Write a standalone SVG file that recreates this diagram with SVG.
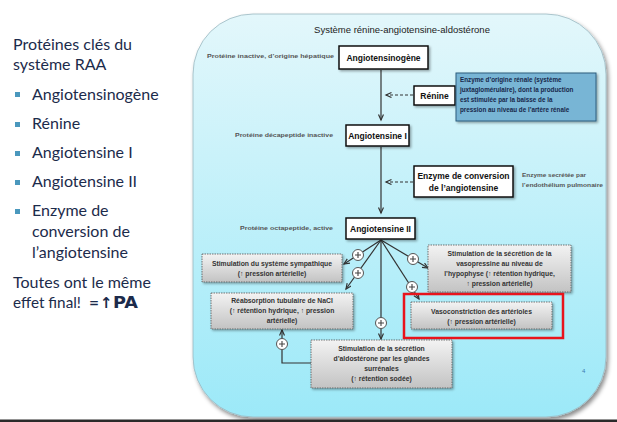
<svg xmlns="http://www.w3.org/2000/svg" width="617" height="422" viewBox="0 0 617 422">
<defs>
<style>
.lt{font-family:Lato,"Open Sans",sans-serif;font-size:16px;fill:#1c2b4b}
.t{font-family:"Liberation Sans",Arial,sans-serif}
.ttl{font-size:9.5px;fill:#222;text-anchor:middle}
.nb{font-size:8.5px;font-weight:bold;fill:#111;text-anchor:middle}
.side{font-size:6.2px;font-weight:bold;fill:#555}
.desc{font-size:6.3px;font-weight:bold;fill:#17274a}
.ob{font-size:6.8px;font-weight:bold;fill:#333;text-anchor:middle}
.nbox{fill:#fff;stroke:#111;stroke-width:1.5}
.gbox{fill:url(#gb);stroke:#555;stroke-width:0.8;stroke-dasharray:1.5,1}
.c{fill:none;stroke:#333;stroke-width:1.2}
.d{fill:none;stroke:#333;stroke-width:1.2;stroke-dasharray:3,2}
.bul{fill:#4a98bd}
.hw{font-family:"DejaVu Sans","Liberation Sans",sans-serif;font-weight:bold;fill:#1c2b4b}
</style>
<linearGradient id="bg" x1="0" y1="0" x2="0" y2="1"><stop offset="0" stop-color="#e3f7fb"/><stop offset="1" stop-color="#9ce9f8"/></linearGradient>
<linearGradient id="gb" x1="0" y1="0" x2="0" y2="1"><stop offset="0" stop-color="#f3f3f3"/><stop offset="1" stop-color="#c3c3c3"/></linearGradient>
<filter id="sh" x="-10%" y="-10%" width="130%" height="140%"><feDropShadow dx="1.5" dy="1.5" stdDeviation="1" flood-color="#000" flood-opacity="0.35"/></filter>
<filter id="psh" x="-5%" y="-5%" width="112%" height="112%"><feDropShadow dx="2" dy="3" stdDeviation="2" flood-color="#000" flood-opacity="0.45"/></filter>
<marker id="a" markerWidth="8" markerHeight="8" refX="6" refY="3" orient="auto" markerUnits="userSpaceOnUse"><path d="M0.5,0.5 L6,3 L0.5,5.5" fill="none" stroke="#333" stroke-width="1.2"/></marker>
<g id="plus"><circle r="5.5" fill="#fff" stroke="#555" stroke-width="1"/><path d="M-3,0 H3 M0,-3 V3" stroke="#444" stroke-width="1.1"/></g>
</defs>
<rect width="617" height="422" fill="#fff"/>

<g id="left-text">
<text class="lt" x="13" y="50">Protéines clés du</text>
<text class="lt" x="13" y="70">système RAA</text>
<rect class="bul" x="15" y="92" width="5" height="5"/><text class="lt" x="32" y="100">Angiotensinogène</text>
<rect class="bul" x="15" y="122" width="5" height="5"/><text class="lt" x="32" y="129">Rénine</text>
<rect class="bul" x="15" y="151" width="5" height="5"/><text class="lt" x="32" y="158">Angiotensine I</text>
<rect class="bul" x="15" y="180" width="5" height="5"/><text class="lt" x="32" y="187">Angiotensine II</text>
<rect class="bul" x="15" y="209" width="5" height="5"/><text class="lt" x="32" y="216">Enzyme de</text>
<text class="lt" x="32" y="237">conversion de</text>
<text class="lt" x="32" y="258">l’angiotensine</text>
<text class="lt" x="13" y="288">Toutes ont le même</text>
<text class="lt" x="13" y="308" textLength="68" lengthAdjust="spacingAndGlyphs">effet final!</text>
<text class="hw" x="89" y="307" style="font-size:12px">=</text>
<text class="hw" x="100" y="308" style="font-size:15px">↑</text>
<text class="hw" x="113" y="308" style="font-size:15px" textLength="25" lengthAdjust="spacingAndGlyphs">PA</text>
</g>

<rect x="193" y="14" width="413" height="403" rx="60" fill="url(#bg)" stroke="#9bb8c0" stroke-width="0.8" filter="url(#psh)"/>
<rect x="0" y="419.5" width="617" height="2.5" fill="#2a2a2a"/>

<text class="t ttl" x="402" y="33">Système rénine-angiotensine-aldostérone</text>

<g id="connectors">
<line class="c" x1="381" y1="70" x2="381" y2="120" marker-end="url(#a)"/>
<line class="c" x1="381" y1="147" x2="381" y2="213" marker-end="url(#a)"/>
<line class="d" x1="413" y1="95" x2="386" y2="95" marker-end="url(#a)"/>
<line class="d" x1="413" y1="182" x2="386" y2="182" marker-end="url(#a)"/>
<line class="c" x1="381" y1="240" x2="344" y2="264" marker-end="url(#a)"/>
<line class="c" x1="381" y1="240" x2="346" y2="289" marker-end="url(#a)"/>
<line class="c" x1="381" y1="240" x2="381" y2="339" marker-end="url(#a)"/>
<line class="c" x1="381" y1="240" x2="428" y2="268" marker-end="url(#a)"/>
<line class="c" x1="381" y1="240" x2="419" y2="299" marker-end="url(#a)"/>
<polyline class="c" points="311,363 282,363 282,330" marker-end="url(#a)"/>
<use href="#plus" x="358" y="255"/>
<use href="#plus" x="358" y="273"/>
<use href="#plus" x="381" y="323"/>
<use href="#plus" x="413" y="259"/>
<use href="#plus" x="412" y="287"/>
<use href="#plus" x="282" y="344"/>
</g>

<g id="angiotensinogene"><rect class="nbox" x="339" y="46" width="89" height="23" filter="url(#sh)"/><text class="t nb" x="383.5" y="60.5">Angiotensinogène</text>
<text class="t side" x="207" y="58" textLength="127" lengthAdjust="spacingAndGlyphs">Protéine inactive, d’origine hépatique</text></g>

<g id="renine"><rect class="nbox" x="414" y="86" width="41" height="19" filter="url(#sh)"/><text class="t nb" x="434.5" y="98.5">Rénine</text></g>

<g id="renine-desc"><rect x="456" y="73" width="140" height="48" fill="#78b5d5" stroke="#2d5d7e" stroke-width="1" filter="url(#sh)"/>
<text class="t desc" x="460" y="82">Enzyme d’origine rénale (système</text>
<text class="t desc" x="460" y="92">juxtaglomérulaire), dont la production</text>
<text class="t desc" x="460" y="102">est stimulée par la baisse de la</text>
<text class="t desc" x="460" y="112">pression au niveau de l’artère rénale</text></g>

<g id="angiotensine-1"><rect class="nbox" x="346" y="125" width="63" height="21" filter="url(#sh)"/><text class="t nb" x="377.5" y="138.5">Angiotensine I</text>
<text class="t side" x="235" y="137" textLength="98" lengthAdjust="spacingAndGlyphs">Protéine décapeptide inactive</text></g>

<g id="eca"><rect class="nbox" x="414" y="166" width="99" height="31" filter="url(#sh)"/><text class="t nb" x="463.5" y="178.5">Enzyme de conversion</text><text class="t nb" x="463.5" y="190.5">de l’angiotensine</text>
<text class="t side" x="522" y="177" textLength="64" lengthAdjust="spacingAndGlyphs">Enzyme secrétée par</text><text class="t side" x="522" y="187" textLength="81" lengthAdjust="spacingAndGlyphs">l’endothélium pulmonaire</text></g>

<g id="angiotensine-2"><rect class="nbox" x="346" y="218" width="69" height="21" filter="url(#sh)"/><text class="t nb" x="380.5" y="231.5">Angiotensine II</text>
<text class="t side" x="240" y="230" textLength="93" lengthAdjust="spacingAndGlyphs">Protéine octapeptide, active</text></g>

<g id="sympathique"><rect class="gbox" x="202" y="254" width="140" height="28" filter="url(#sh)"/>
<text class="t ob" x="272" y="265.5">Stimulation du système sympathique</text>
<text class="t ob" x="272" y="276">(↑ pression artérielle)</text></g>

<g id="reabsorption"><rect class="gbox" x="211" y="293" width="142" height="36" filter="url(#sh)"/>
<text class="t ob" x="282" y="303">Réabsorption tubulaire de NaCl</text>
<text class="t ob" x="282" y="313">(↑ rétention hydrique, ↑ pression</text>
<text class="t ob" x="282" y="323">artérielle)</text></g>

<g id="vasopressine"><rect class="gbox" x="428" y="245" width="143" height="47" filter="url(#sh)"/>
<text class="t ob" x="499.5" y="256">Stimulation de la sécrétion de la</text>
<text class="t ob" x="499.5" y="266">vasopressine au niveau de</text>
<text class="t ob" x="499.5" y="276">l’hypophyse (↑ rétention hydrique,</text>
<text class="t ob" x="499.5" y="286">↑ pression artérielle)</text></g>

<g id="vasoconstriction"><rect class="gbox" x="411" y="302" width="141" height="27" filter="url(#sh)"/>
<text class="t ob" x="481.5" y="313.5">Vasoconstriction des artérioles</text>
<text class="t ob" x="481.5" y="323.5">(↑ pression artérielle)</text>
<rect x="404" y="294" width="159" height="44" fill="none" stroke="#e8141c" stroke-width="2.5"/></g>

<g id="aldosterone"><rect class="gbox" x="311" y="340" width="141" height="48" filter="url(#sh)"/>
<text class="t ob" x="381.5" y="351">Stimulation de la sécrétion</text>
<text class="t ob" x="381.5" y="361">d’aldostérone par les glandes</text>
<text class="t ob" x="381.5" y="371">surrénales</text>
<text class="t ob" x="381.5" y="381">(↑ rétention sodée)</text></g>

<text class="t" x="582" y="373" style="font-size:6px;fill:#3a7ab0">4</text>
</svg>
